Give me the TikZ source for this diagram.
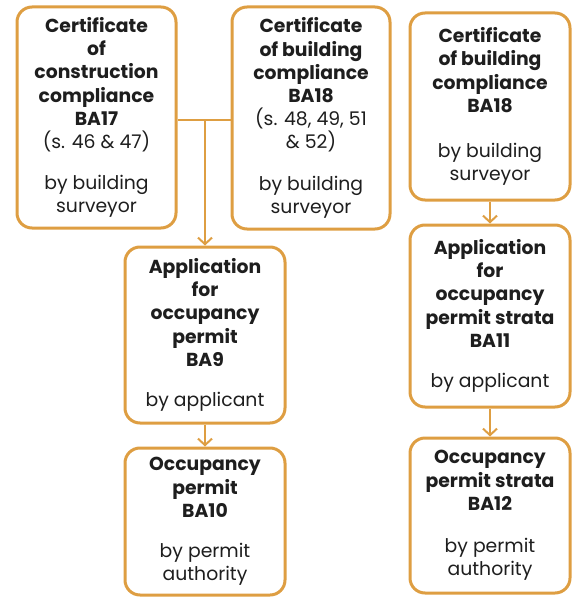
\documentclass[tikz,border=0pt]{standalone}
\usepackage{fontspec}
\setmainfont{Poppins}
\usetikzlibrary{arrows.meta}
\definecolor{boxorange}{RGB}{222,158,66}
\definecolor{txt}{RGB}{30,30,30}
\begin{document}
\begin{tikzpicture}[x=1pt,y=-1pt,
  box/.style={draw=boxorange, line width=3pt, rounded corners=15pt, fill=white,
    align=center, text=txt, inner sep=0pt, font=\fontsize{18.8}{23.2}\selectfont},
  flow/.style={draw=boxorange, line width=2.5pt, -{Straight Barb[length=6.5pt,width=14pt,line width=2pt]}},
  link/.style={draw=boxorange, line width=2.5pt}]
\useasboundingbox (0,0) rectangle (574,599);
\node[box, minimum width=159pt, minimum height=221pt] (a) at (96.5,117.5)
  {\textbf{Certificate}\\\textbf{of}\\\textbf{construction}\\\textbf{compliance}\\\textbf{BA17}\\(s. 46 \& 47)\\[18pt]by building\\surveyor};
\node[box, minimum width=158pt, minimum height=222pt] (b) at (311,118)
  {\textbf{Certificate}\\\textbf{of building}\\\textbf{compliance}\\\textbf{BA18}\\(s. 48, 49, 51\\\& 52)\\[18pt]by building\\surveyor};
\node[box, minimum width=160pt, minimum height=187pt] (c) at (490,106.5)
  {\textbf{Certificate}\\\textbf{of building}\\\textbf{compliance}\\\textbf{BA18}\\[22pt]by building\\surveyor};
\node[box, minimum width=160pt, minimum height=182pt] (d) at (490,316)
  {\textbf{Application}\\\textbf{for}\\\textbf{occupancy}\\\textbf{permit strata}\\\textbf{BA11}\\[17pt]by applicant};
\node[box, minimum width=160pt, minimum height=155pt] (e) at (490,515.5)
  {\textbf{Occupancy}\\\textbf{permit strata}\\\textbf{BA12}\\[19pt]by permit\\authority};
\node[box, minimum width=160pt, minimum height=176pt] (f) at (205,335)
  {\textbf{Application}\\\textbf{for}\\\textbf{occupancy}\\\textbf{permit}\\\textbf{BA9}\\[17pt]by applicant};
\node[box, minimum width=160pt, minimum height=147pt] (g) at (205,521.5)
  {\textbf{Occupancy}\\\textbf{permit}\\\textbf{BA10}\\[17pt]by permit\\authority};
\coordinate (j) at (205,120);
\draw[link] (a.east |- j) -- (b.west |- j);
\draw[flow] (j) -- (f.north);
\draw[flow] (f) -- (g);
\draw[flow] (c) -- (d);
\draw[flow] (d) -- (e);
\end{tikzpicture}
\end{document}
